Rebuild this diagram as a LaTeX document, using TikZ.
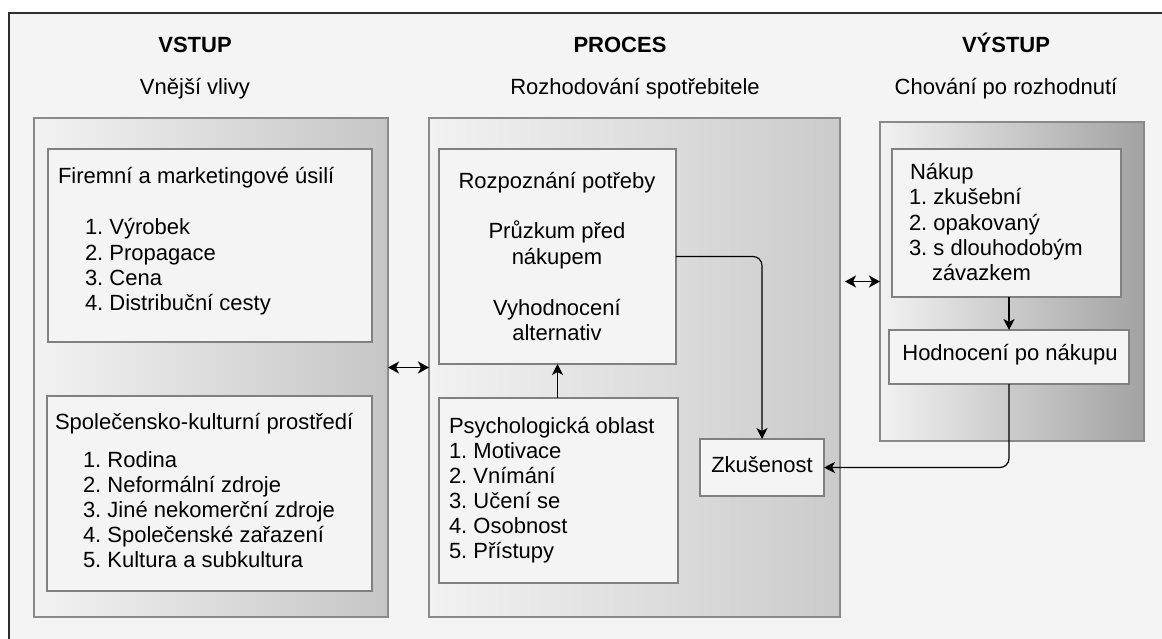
\documentclass[tikz,border=0pt]{standalone}
\usepackage{fontspec}
\setmainfont{Liberation Sans}
\usetikzlibrary{arrows.meta}
\definecolor{canvas}{HTML}{F4F4F4}
\definecolor{frameline}{HTML}{2E2E2E}
\definecolor{panelline}{HTML}{8A8A8A}
\definecolor{boxline}{HTML}{808080}
\definecolor{shadeL}{HTML}{F2F2F2}
\definecolor{shadeA}{HTML}{C6C6C6}
\definecolor{shadeB}{HTML}{CBCBCB}
\definecolor{shadeC}{HTML}{A2A2A2}
\begin{document}
\frenchspacing
\begin{tikzpicture}[x=1pt,y=-1pt,
  every node/.style={inner sep=0pt,outer sep=0pt},
  txt/.style={font=\fontsize{22}{25}\selectfont,text=black},
  head/.style={txt,font=\fontsize{22}{25}\selectfont\bfseries},
  panel/.style={draw=panelline,line width=1.2pt,left color=shadeL,right color=#1,anchor=north west},
  box/.style={draw=boxline,line width=1.2pt,fill=canvas,anchor=north west},
  tip/.style={Stealth[length=11pt,width=11pt,inset=3pt]},
  arr/.style={-{Stealth[length=11pt,width=11pt,inset=3pt]},line width=1.2pt,black},
  dbl/.style={{Stealth[length=11pt,width=12pt,inset=3pt]}-{Stealth[length=11pt,width=12pt,inset=3pt]},line width=1.2pt,black}]

% page and outer frame
\useasboundingbox (0,0) rectangle (1162,639);
\fill[white] (0,0) rectangle (1162,639);
\fill[canvas] (9,13) rectangle (1162,639);
\draw[frameline,line width=1.4pt] (9,639) -- (9,13) -- (1162,13);

% column headings
\node[head,anchor=base] (hin) at (195,53) {VSTUP};
\node[txt,anchor=base] (hins) at (195,95) {Vnější vlivy};
\node[head,anchor=base] (hproc) at (620,53) {PROCES};
\node[txt,anchor=base] (hprocs) at (635,95) {Rozhodování spotřebitele};
\node[head,anchor=base] (hout) at (1006,53) {VÝSTUP};
\node[txt,anchor=base] (houts) at (1006,95) {Chování po rozhodnutí};

% shaded panels
\node[panel=shadeA,minimum width=354pt,minimum height=499pt] (leftp) at (34,118) {};
\node[panel=shadeB,minimum width=411pt,minimum height=499pt] (midp) at (429,118) {};
\node[panel=shadeC,minimum width=264pt,minimum height=319pt] (rightp) at (880,122) {};

% boxes
\node[box,minimum width=324pt,minimum height=193pt] (firm) at (48,149) {};
\node[box,minimum width=325pt,minimum height=195pt] (spol) at (47,396) {};
\node[box,minimum width=237pt,minimum height=215pt] (rozp) at (439,149) {};
\node[box,minimum width=239pt,minimum height=185pt] (psych) at (439,398) {};
\node[box,minimum width=124pt,minimum height=57pt] (zkus) at (700,439) {};
\node[box,minimum width=229pt,minimum height=148pt] (nakup) at (892,149) {};
\node[box,minimum width=240pt,minimum height=54pt] (hodn) at (889,330) {};

% texts of the left column
\node[txt,anchor=base west] (t1) at (58,184) {Firemní a marketingové úsilí};
\foreach \s [count=\i] in {1. Výrobek,2. Propagace,3. Cena,4. Distribuční cesty}
  \node[txt,anchor=base west] (t1-\i) at (85,210+25*\i) {\s};
\node[txt,anchor=base west] (t2) at (55,429) {Společensko-kulturní prostředí};
\foreach \s [count=\i] in {1. Rodina,2. Neformální zdroje,3. Jiné nekomerční zdroje,4. Společenské zařazení,5. Kultura a subkultura}
  \node[txt,anchor=base west] (t2-\i) at (83,442+25*\i) {\s};

% texts of the middle column
\node[txt,anchor=base] (r1) at (557,189) {Rozpoznání potřeby};
\node[txt,anchor=base] (r2) at (557,239) {Průzkum před};
\node[txt,anchor=base] (r3) at (557,264) {nákupem};
\node[txt,anchor=base] (r4) at (557,315) {Vyhodnocení};
\node[txt,anchor=base] (r5) at (557,340) {alternativ};
\node[txt,anchor=base west] (p0) at (449,433) {Psychologická oblast};
\foreach \s [count=\i] in {1. Motivace,2. Vnímání,3. Učení se,4. Osobnost,5. Přístupy}
  \node[txt,anchor=base west] (p-\i) at (449,433+25*\i) {\s};
\node[txt,anchor=base] (z) at (762,472) {Zkušenost};

% texts of the right column
\node[txt,anchor=base west] (n0) at (910,180) {Nákup};
\node[txt,anchor=base west] (n1) at (909,205) {1. zkušební};
\node[txt,anchor=base west] (n2) at (909,230) {2. opakovaný};
\node[txt,anchor=base west] (n3) at (909,255) {3. s dlouhodobým};
\node[txt,anchor=base west] (n4) at (932,280) {závazkem};
\node[txt,anchor=base] (h) at (1010,360) {Hodnocení po nákupu};

% connectors
\draw[dbl] (leftp.east) -- (midp.west);
\draw[dbl,shorten <=5pt] (midp.east |- rightp.west) -- (rightp.west);
\draw[arr,rounded corners=9pt] (rozp.east) -| (zkus.north);
\draw[arr] (psych.north -| rozp.south) -- (rozp.south);
\draw[arr] (nakup.south -| hodn.north) -- (hodn.north);
\draw[arr,rounded corners=9pt] (hodn.south) |- (zkus.east);
\end{tikzpicture}
\end{document}
